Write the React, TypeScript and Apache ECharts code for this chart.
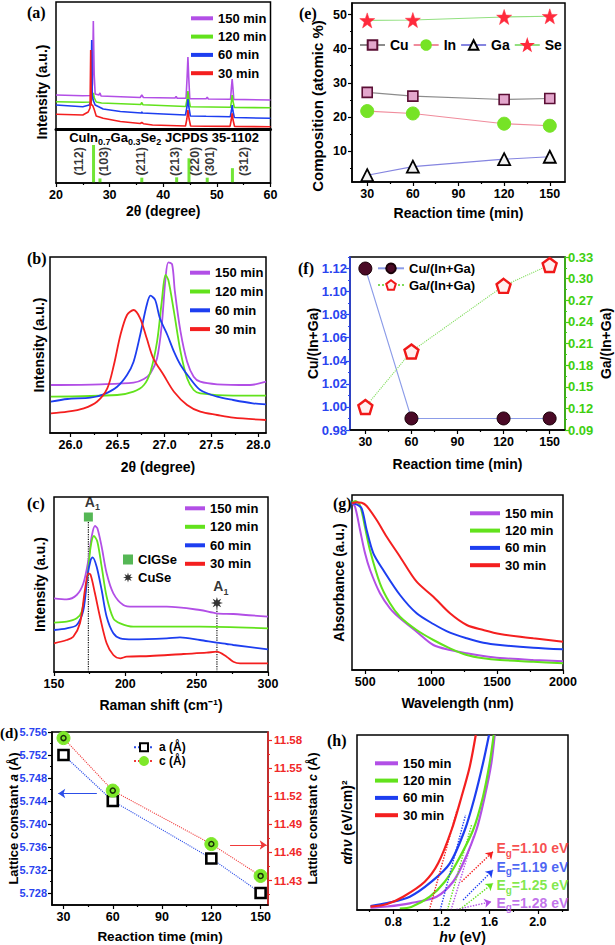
import { useEffect, useRef } from 'react';
import * as echarts from 'echarts';

const FONT = '"Liberation Sans", Arial, Helvetica, sans-serif';
const SERIF = '"Liberation Serif", "Times New Roman", serif';

const PURPLE = '#b24fe6';
const GREEN = '#62e21c';
const BLUE = '#1d3ef0';
const RED = '#f41f1f';

const timeNames = ['150 min', '120 min', '60 min', '30 min'];
const timeColors = [PURPLE, GREEN, BLUE, RED];

// ---------- (a) XRD patterns [2θ, intensity a.u.] ----------
const xrdA150 = [[20,34],[25,33.3],[26.6,33.5],[26.8,45],[26.96,108],[27.12,55],[27.3,35],[28.0,34],[28.2,36],[28.4,33],[35.7,31.5],[36.0,34],[36.3,31.5],[42.2,31],[42.4,32.5],[42.6,30.8],[44.25,30.7],[44.45,52],[44.6,72],[44.75,52],[44.95,30.3],[48.0,30.2],[48.2,31.8],[48.4,30],[52.55,29.7],[52.72,42],[52.85,50],[52.98,42],[53.15,29.6],[60,29]];
const xrdA120 = [[20,27.3],[25,26.7],[26.5,27],[26.8,31],[26.96,36],[27.15,31],[27.5,27],[28.5,26],[35.8,24.5],[36.0,26.5],[36.2,24.3],[44.2,22.5],[44.45,30],[44.6,38],[44.78,30],[45.05,22.2],[52.55,21.7],[52.72,28],[52.85,34],[53.0,28],[53.25,21.5],[60,21.3]];
const xrdA60 = [[20,24],[25,22.3],[26.2,24],[26.5,27],[26.66,89],[26.76,33],[27.0,28],[27.3,24],[28.8,20],[32,17.5],[35.9,16],[36.0,17],[36.1,16],[40,15],[44.15,14],[44.42,22],[44.6,30],[44.78,22],[45.05,13],[48,12.7],[52.5,12.3],[52.7,18],[52.85,24],[53.0,18],[53.25,11.5],[60,10.7]];
const xrdA30 = [[20,14.7],[25,14],[26.0,17],[26.35,21],[26.47,79],[26.56,24],[26.8,24],[27.1,20],[27.5,13],[28.8,10.7],[32,7.5],[35.7,5.5],[36.0,6.5],[36.3,5.3],[38,4],[44.15,3],[44.4,10],[44.6,19],[44.82,10],[45.1,3],[48,2.8],[52.45,2.6],[52.68,9],[52.85,15.7],[53.02,9],[53.3,2.5],[60,2.3]];
const refHkl = ['(112)', '(103)', '(211)', '(213)', '(220)', '(301)', '(312)'];
const refTwoTheta = [27.0, 28.2, 36.0, 42.5, 44.8, 48.2, 52.9];
const refIntensity = [100, 12, 14, 15, 65, 14, 39];

// ---------- (e) composition ----------
const reactionTime = [30, 60, 120, 150];
const compCu = [27.2, 26.1, 25.1, 25.4];
const compIn = [21.7, 21.0, 18.0, 17.4];
const compGa = [2.9, 5.4, 7.6, 8.3];
const compSe = [48.3, 48.4, 49.3, 49.5];

// ---------- (b) (112) peak zoom ----------
const xrdB150 = [[25.79,48],[26.32,48.7],[26.67,50.3],[26.78,54],[26.85,59.7],[26.92,74.7],[26.97,108],[27.01,154.7],[27.04,170.7],[27.08,168.7],[27.11,141.3],[27.17,101.3],[27.24,71.3],[27.31,56.3],[27.38,51.3],[27.56,48.7],[27.91,48],[28.08,51.3]];
const xrdB120 = [[25.79,36.3],[26.495,38],[26.67,41.3],[26.78,48],[26.85,61.3],[26.92,91.3],[26.97,131.3],[27.01,158],[27.04,153],[27.1,121.3],[27.17,81.3],[27.24,54.7],[27.31,43],[27.38,39.7],[27.73,37.3],[28.08,37.3]];
const xrdB60 = [[25.79,31.3],[25.965,34],[26.21,35.3],[26.35,38.7],[26.495,46.3],[26.6,58],[26.67,71.3],[26.74,98],[26.81,128],[26.85,137.3],[26.9,133],[26.95,114.7],[27.03,98],[27.1,81.3],[27.17,68],[27.27,54.7],[27.38,43],[27.56,36.3],[27.73,33],[27.94,29.7],[28.08,28.7]];
const xrdB30 = [[25.79,19.7],[25.965,21.3],[26.14,24.7],[26.28,31.3],[26.39,44.7],[26.46,68],[26.53,98],[26.6,118],[26.67,123],[26.74,114.7],[26.81,94.7],[26.88,74.7],[26.99,58],[27.1,41.3],[27.24,28],[27.38,21.3],[27.56,18],[27.73,15.3],[28.08,13]];

// ---------- (f) ratios ----------
const ratioCu = [1.12, 0.99, 0.99, 0.99];
const ratioGa = [0.122, 0.199, 0.29, 0.319];

// ---------- (c) Raman ----------
const ramanC150 = [[150,73.7],[158.9,72.7],[165.9,77],[170.6,88.7],[174.1,112],[176.4,135.3],[178.7,146],[180.4,143.7],[183.4,125.3],[186.9,98.7],[191.6,78.7],[198.6,67],[205.6,65.3],[229,65.3],[252.3,62],[264,58.7],[275.7,58],[300,55.3]];
const ramanC120 = [[150,49.3],[158.9,50.3],[165.9,53.7],[169.4,60.3],[172.9,88.7],[175.7,125.3],[178,136],[180.4,130.3],[183.4,105.3],[186.9,75.3],[191.6,53.7],[196.4,48.7],[205.6,45.3],[252.3,45.3],[300,43.7]];
const ramanC60 = [[150,42],[158.9,43.7],[165.9,47],[170.6,62],[173.4,95.3],[175.7,112],[177.1,114.7],[179.9,105.3],[183.4,82],[186.9,55.3],[191.6,38.7],[196.4,33.7],[205.6,32.7],[229,33.7],[238.3,34.7],[252.3,32],[264,29.3],[271,28],[275.7,27],[300,22.7]];
const ramanC30 = [[150,28.7],[158.9,32],[163.5,35.3],[168.2,48.7],[171.7,82],[174.1,98.7],[175.7,97],[178.7,78.7],[182.2,55.3],[186.9,28.7],[191.6,17],[196.4,13.7],[200.9,15.3],[217.3,16],[240.7,18],[257,19.3],[264,20.3],[271,15.3],[275.7,10.3],[280.4,8.7],[300,8.7]];
const cigsePeak = [174.1, 155];
const cuSePeak = [264.2, 69];

// ---------- (g) absorbance ----------
const absG150 = [[400,166.7],[423,163.3],[461,140],[499,116.7],[537,100],[612,76.7],[688,61.7],[764,51.7],[890,38.3],[1017,25],[1143,20],[1270,16.7],[1396,14],[1522,12],[1775,10],[2000,8.7]];
const absG120 = [[400,167.3],[425,169],[460,165],[498,143.3],[536,120],[612,86.7],[688,66.7],[764,53.3],[890,40],[1017,30],[1143,21.7],[1270,15],[1396,11.7],[1522,10],[1775,8.3],[2000,6.7]];
const absG60 = [[400,166.7],[435,165.7],[473,161.7],[511,140],[562,116.7],[637,100],[764,75],[890,56.7],[1017,46],[1143,37.3],[1270,31.7],[1396,27.3],[1522,25],[1775,22.3],[2000,20.7]];
const absG30 = [[400,166.7],[435,167.7],[473,167.3],[511,164],[587,150],[663,133.3],[764,113.3],[890,88.3],[1017,73.3],[1143,56.7],[1270,45],[1396,40],[1522,36],[1775,31.7],[2000,28.3]];

// ---------- (d) lattice constants ----------
const latticeA = [5.752, 5.744, 5.734, 5.728];
const latticeC = [11.582, 11.526, 11.469, 11.435];

// ---------- (h) Tauc plots ----------
const taucH150 = [[0.612,2.3],[0.75,3.5],[0.938,6.7],[1.16,13.3],[1.297,28.3],[1.38,46.7],[1.49,80],[1.559,113.3],[1.614,146.7],[1.642,175]];
const taucH120 = [[0.855,1.5],[0.95,3],[1.104,13.3],[1.228,28.3],[1.325,46.7],[1.463,80],[1.545,113.3],[1.6,146.7],[1.634,175]];
const taucH60 = [[0.612,4],[0.75,7],[0.938,13.3],[1.118,28.3],[1.27,46.7],[1.394,80],[1.477,113.3],[1.545,146.7],[1.595,175]];
const taucH30 = [[0.612,3.3],[0.75,6],[0.883,13.3],[1.062,28.3],[1.173,46.7],[1.284,80],[1.367,113.3],[1.435,143.3],[1.485,175]];
const bandGaps = [1.28, 1.25, 1.19, 1.10];

// ---------- helpers ----------
const lbl = (size: number, color = '#000') => ({ fontFamily: FONT, fontWeight: 'bold', fontSize: size, color });
const fmt0 = (v: number) => String(Math.round(v));
const fmt1 = (v: number) => v.toFixed(1);
const fmt2 = (v: number) => v.toFixed(2);
const fmt3 = (v: number) => v.toFixed(3);
const STAR5 = 'path://M0,-10L2.35,-3.24L9.51,-3.09L3.8,1.24L5.88,8.09L0,4L-5.88,8.09L-3.8,1.24L-9.51,-3.09L-2.35,-3.24Z';
const STAR8 = 'path://M10,0L4.16,1.72L7.07,7.07L1.72,4.16L0,10L-1.72,4.16L-7.07,7.07L-4.16,1.72L-10,0L-4.16,-1.72L-7.07,-7.07L-1.72,-4.16L0,-10L1.72,-4.16L7.07,-7.07L4.16,-1.72Z';
const PENTA = 'path://M0,-10L9.51,-3.09L5.88,8.09L-5.88,8.09L-9.51,-3.09Z';

function buildOption(): any {
  const grid = [
    [56, 2, 214.5, 127],
    [56, 129, 214.5, 54],
    [352, 3, 213, 179],
    [50, 257, 216, 176],
    [350, 257, 215, 173],
    [54, 497, 214, 175],
    [352, 495, 211, 175],
    [52, 732, 216, 173],
    [357, 735, 211, 175],
  ].map(([left, top, width, height]) => ({
    left, top, width, height, show: true, borderColor: '#000', borderWidth: 1.5,
    backgroundColor: 'transparent', containLabel: false, outerBoundsMode: 'none',
  }));

  const xAxis: any[] = [];
  const yAxis: any[] = [];
  const axis = (kind: string, gridIndex: number, min: number, max: number, o: any) => {
    const ax = {
      type: 'value', gridIndex, min, max,
      position: o.pos ?? (kind === 'x' ? 'bottom' : 'left'),
      axisLine: { show: !!o.line, onZero: false, lineStyle: { color: o.lineColor ?? '#000', width: o.lineWidth ?? 1.5 } },
      axisTick: o.ticks
        ? { show: true, inside: false, length: o.tickLen ?? 4, customValues: o.ticks, lineStyle: { color: o.lineColor ?? '#000', width: 1.2 } }
        : { show: false },
      axisLabel: o.labels
        ? { show: true, customValues: o.labels, margin: o.margin ?? 5, formatter: o.fmt, ...lbl(o.fs ?? 12.5, o.labelColor ?? '#000') }
        : { show: false },
      splitLine: { show: false },
      name: o.name,
      nameLocation: 'middle',
      nameGap: o.gap ?? 20,
      nameRotate: kind === 'y' ? 90 : 0,
      nameTextStyle: { ...lbl(o.nameSize ?? 14), rich: { i: { ...lbl(o.nameSize ?? 14), fontStyle: 'italic' } } },
      nameMoveOverlap: false,
      silent: true,
      z: 5,
    };
    const list = kind === 'x' ? xAxis : yAxis;
    list.push(ax);
    return list.length - 1;
  };

  const t30 = [30, 60, 90, 120, 150];
  const t30m = [45, 75, 105, 135];

  // (a)
  const xA0 = axis('x', 0, 20, 60, { line: true, lineWidth: 3 });
  const yA0 = axis('y', 0, 0, 127, {});
  const xA1 = axis('x', 1, 20, 60, { line: true, ticks: [20, 30, 40, 50, 60], labels: [20, 30, 40, 50, 60], fmt: fmt0, name: '2θ (degree)', gap: 21 });
  axis('x', 1, 20, 60, { ticks: [25, 35, 45, 55], tickLen: 2 });
  const yA1 = axis('y', 1, 0, 142, {});
  // (e)
  const xE = axis('x', 2, 20, 160, { line: true, ticks: t30, labels: t30, fmt: fmt0, name: 'Reaction time (min)', gap: 24 });
  axis('x', 2, 20, 160, { ticks: t30m, tickLen: 2 });
  const yE = axis('y', 2, 0.9, 53.4, { line: true, ticks: [10, 20, 30, 40, 50], labels: [10, 20, 30, 40, 50], fmt: fmt0 });
  axis('y', 2, 0.9, 53.4, { ticks: [5, 15, 25, 35, 45], tickLen: 2 });
  // (b)
  const xB = axis('x', 3, 25.78, 28.08, { line: true, ticks: [26, 26.5, 27, 27.5, 28], labels: [26, 26.5, 27, 27.5, 28], fmt: fmt1, name: '2θ (degree)', gap: 27 });
  axis('x', 3, 25.78, 28.08, { ticks: [26.25, 26.75, 27.25, 27.75], tickLen: 2 });
  const yB = axis('y', 3, 0, 176, { name: 'Intensity (a.u.)', gap: 4 });
  // (f)
  const BLUE_AX = '#2a44f0', GREEN_AX = '#3fcf10', RED_AX = '#f02828';
  const xF = axis('x', 4, 20, 160, { line: true, ticks: t30, labels: t30, fmt: fmt0, name: 'Reaction time (min)', gap: 27 });
  axis('x', 4, 20, 160, { ticks: t30m, tickLen: 2 });
  const fL = [0.98, 1.0, 1.02, 1.04, 1.06, 1.08, 1.1, 1.12];
  const yF1 = axis('y', 4, 0.98, 1.13, { line: true, lineColor: BLUE_AX, ticks: fL, labels: fL, fmt: fmt2, labelColor: BLUE_AX, fs: 13, margin: 3, name: 'Cu/(In+Ga)', gap: 30 });
  axis('y', 4, 0.98, 1.13, { ticks: [0.99, 1.01, 1.03, 1.05, 1.07, 1.09, 1.11, 1.13], tickLen: 2, lineColor: BLUE_AX });
  const fR = [0.09, 0.12, 0.15, 0.18, 0.21, 0.24, 0.27, 0.3, 0.33];
  const yF2 = axis('y', 4, 0.09, 0.33, { pos: 'right', line: true, lineColor: GREEN_AX, ticks: fR, labels: fR, fmt: fmt2, labelColor: GREEN_AX, fs: 13, margin: 3, name: 'Ga/(In+Ga)', gap: 34 });
  axis('y', 4, 0.09, 0.33, { pos: 'right', ticks: [0.105, 0.135, 0.165, 0.195, 0.225, 0.255, 0.285, 0.315], tickLen: 2, lineColor: GREEN_AX });
  // (c)
  const xC = axis('x', 5, 150, 300, { line: true, ticks: [150, 200, 250, 300], labels: [150, 200, 250, 300], fmt: fmt0, name: 'Raman shift (cm⁻¹)', gap: 26 });
  axis('x', 5, 150, 300, { ticks: [175, 225, 275], tickLen: 2 });
  const yC = axis('y', 5, 0, 175, { name: 'Intensity (a.u.)', gap: 7 });
  // (g)
  const xG = axis('x', 6, 400, 2000, { line: true, ticks: [500, 1000, 1500, 2000], labels: [500, 1000, 1500, 2000], fmt: fmt0, name: 'Wavelength (nm)', gap: 26 });
  axis('x', 6, 400, 2000, { ticks: [750, 1250, 1750], tickLen: 2 });
  const yG = axis('y', 6, 0, 175, { name: 'Absorbance (a.u.)', gap: 6 });
  // (d)
  const xD = axis('x', 7, 23, 154.5, { line: true, ticks: t30, labels: t30, fmt: fmt0, name: 'Reaction time (min)', nameSize: 13.5, gap: 24 });
  axis('x', 7, 23, 154.5, { ticks: t30m, tickLen: 2 });
  const dL = [5.728, 5.732, 5.736, 5.74, 5.744, 5.748, 5.752, 5.756];
  const yD1 = axis('y', 7, 5.7259, 5.756, { line: true, ticks: dL, labels: dL, fmt: fmt3, labelColor: BLUE_AX, fs: 11, margin: 5, name: 'Lattice constant {i|a} (Å)', nameSize: 13, gap: 32 });
  axis('y', 7, 5.7259, 5.756, { ticks: [5.73, 5.734, 5.738, 5.742, 5.746, 5.75, 5.754], tickLen: 2 });
  const dR = [11.43, 11.46, 11.49, 11.52, 11.55, 11.58];
  const yD2 = axis('y', 7, 11.404, 11.5885, { pos: 'right', line: true, lineColor: RED_AX, ticks: dR, labels: dR, fmt: fmt2, labelColor: RED_AX, fs: 11.5, margin: 6, name: 'Lattice constant {i|c} (Å)', nameSize: 13, gap: 38 });
  axis('y', 7, 11.404, 11.5885, { pos: 'right', ticks: [11.415, 11.445, 11.475, 11.505, 11.535, 11.565], tickLen: 2, lineColor: RED_AX });
  // (h)
  const xH = axis('x', 8, 0.5, 2.25, { line: true, ticks: [0.8, 1.2, 1.6, 2.0], labels: [0.8, 1.2, 1.6, 2.0], fmt: fmt1, name: '{i|hν} (eV)', gap: 20 });
  axis('x', 8, 0.5, 2.25, { ticks: [0.6, 1.0, 1.4, 1.8, 2.2], tickLen: 2 });
  const yH = axis('y', 8, 0, 175, { name: '{i|αhν} (eV/cm)²', gap: 3 });

  const curve = (name: string, data: any, color: string, xi: number, yi: number, smooth: any = false, width = 1.8) => ({
    type: 'line', name, data, xAxisIndex: xi, yAxisIndex: yi, symbol: 'none', showSymbol: false, smooth,
    lineStyle: { color, width }, itemStyle: { color }, silent: true, z: 3,
    emphasis: { disabled: true },
  });

  const series: any[] = [];
  // (a)
  [xrdA150, xrdA120, xrdA60, xrdA30].forEach((d, i) => series.push(curve(timeNames[i], d, timeColors[i], xA0, yA0, false, 1.6)));
  series.push({
    type: 'bar', name: 'JCPDS', xAxisIndex: xA1, yAxisIndex: yA1, barWidth: 3, silent: true,
    data: refTwoTheta.map((x, i) => [x, refIntensity[i]]), itemStyle: { color: '#72e536' },
  });
  const hklLabelX = [24.3, 29.0, 35.9, 42.1, 45.9, 48.7, 55.1];
  series.push({
    type: 'scatter', name: 'hkl', xAxisIndex: xA1, yAxisIndex: yA1, symbolSize: 0, silent: true,
    data: refHkl.map((t, i) => ({ value: [hklLabelX[i], 57], name: t })),
    label: { show: true, position: 'inside', rotate: 90, formatter: '{b}', ...lbl(12.5, '#000') },
  });
  // (e)
  const pts = (ys: number[]) => reactionTime.map((t, i) => [t, ys[i]]);
  const marker = (name: string, ys: number[], lineColor: string, symbol: string, size: number, item: any, xi: number, yi: number, lineType = 'solid') => ({
    type: 'line', name, data: pts(ys), xAxisIndex: xi, yAxisIndex: yi, symbol, symbolSize: size,
    lineStyle: { color: lineColor, width: 1.1, type: lineType }, itemStyle: item, silent: true, z: 4,
    emphasis: { disabled: true },
  });
  series.push(marker('Cu', compCu, '#8c8c8c', 'rect', 10, { color: '#e3a6cc', borderColor: '#5b0f35', borderWidth: 1.6 }, xE, yE));
  series.push(marker('In', compIn, '#f08c9c', 'circle', 13, { color: '#76e326', borderColor: '#76e326', borderWidth: 1 }, xE, yE));
  series.push(marker('Ga', compGa, '#8585e0', 'triangle', 12, { color: '#f2f2f2', borderColor: '#000', borderWidth: 1.8 }, xE, yE));
  series.push(marker('Se', compSe, '#92e080', STAR5, 15, { color: '#ff2a3c', borderColor: '#ff2a3c', borderWidth: 0.5 }, xE, yE));
  // (b)
  [xrdB150, xrdB120, xrdB60, xrdB30].forEach((d, i) => series.push(curve(timeNames[i], d, timeColors[i], xB, yB, 0.3)));
  // (f)
  series.push(marker('Cu/(In+Ga)', ratioCu, '#8c9ce8', 'circle', 13, { color: '#4a0a26', borderColor: '#1a0008', borderWidth: 1 }, xF, yF1));
  series.push(marker('Ga/(In+Ga)', ratioGa, '#7fdc5a', PENTA, 14, { color: '#fff0f0', borderColor: '#f01818', borderWidth: 2.4 }, xF, yF2, 'dotted'));
  // (c)
  [ramanC150, ramanC120, ramanC60, ramanC30].forEach((d, i) => series.push(curve(timeNames[i], d, timeColors[i], xC, yC, 0.3)));
  const dotted = (data: any, xi: number, yi: number) => ({
    type: 'line', data, xAxisIndex: xi, yAxisIndex: yi, symbol: 'none', silent: true,
    lineStyle: { color: '#111', width: 1.2, type: 'dotted' }, z: 2,
  });
  series.push(dotted([[cigsePeak[0], 0], [cigsePeak[0], cigsePeak[1] - 4]], xC, yC));
  series.push(dotted([[cuSePeak[0], 0], [cuSePeak[0], cuSePeak[1] - 4]], xC, yC));
  const a1Label = {
    show: true, position: 'top', distance: 1, offset: [4, 0], formatter: 'A{s|1}', ...lbl(14),
    rich: { s: { ...lbl(9), verticalAlign: 'bottom', lineHeight: 20 } },
  };
  series.push({ type: 'scatter', name: 'CIGSe', data: [cigsePeak], xAxisIndex: xC, yAxisIndex: yC, symbol: 'rect', symbolSize: 9, itemStyle: { color: '#2aa52a' }, label: a1Label, silent: true, z: 6 });
  series.push({ type: 'scatter', name: 'CuSe', data: [cuSePeak], xAxisIndex: xC, yAxisIndex: yC, symbol: STAR8, symbolSize: 12, itemStyle: { color: '#000' }, label: a1Label, silent: true, z: 6 });
  // (g)
  [absG150, absG120, absG60, absG30].forEach((d, i) => series.push(curve(timeNames[i], d, timeColors[i], xG, yG, 0.3, 2)));
  // (d)
  const dA = marker('a (Å)', latticeA, '#2c4ee8', 'rect', 10, { color: '#fff', borderColor: '#000', borderWidth: 2.6 }, xD, yD1, 'dotted');
  (dA as any).markLine = {
    silent: true, symbol: ['none', 'none'], symbolSize: 7, label: { show: false }, animation: false,
    lineStyle: { color: '#2c4ee8', width: 1.2, type: 'solid' },
    data: [[{ coord: [50.3, 5.7453] }, { coord: [26.8, 5.7453], symbol: 'arrow' }]],
  };
  series.push(dA);
  const dC = marker('c (Å)', latticeC, '#f03a3a', 'circle', 13, { color: '#7ee82a', borderColor: '#7ee82a', borderWidth: 1 }, xD, yD2, 'dotted');
  (dC as any).markLine = {
    silent: true, symbol: ['none', 'none'], symbolSize: 7, label: { show: false }, animation: false,
    lineStyle: { color: '#f03a3a', width: 1.2, type: 'solid' },
    data: [[{ coord: [131.4, 11.468] }, { coord: [153.7, 11.468], symbol: 'arrow' }]],
  };
  series.push(dC);
  series.push({ type: 'scatter', name: 'c-ring', data: pts(latticeC), xAxisIndex: xD, yAxisIndex: yD2, symbol: 'circle', symbolSize: 5, itemStyle: { color: '#7ee82a', borderColor: '#000', borderWidth: 1.5 }, silent: true, z: 6 });
  // (h)
  const tanTop = [[1.47, 75], [1.45, 85], [1.40, 95], [1.33, 100]];
  const arrowStart = [[1.325, 0.5], [1.353, 0.5], [1.38, 10], [1.367, 28.3]];
  const arrowEnd = [[1.614, 8.3], [1.628, 26.7], [1.628, 40], [1.628, 58.3]];
  [taucH150, taucH120, taucH60, taucH30].forEach((d, i) => {
    const s: any = curve(timeNames[i], d, timeColors[i], xH, yH, 0.3, 2.2);
    s.markLine = {
      silent: true, symbol: ['none', 'none'], symbolSize: 7, label: { show: false }, animation: false,
      lineStyle: { color: timeColors[i], width: 1.4, type: 'dotted' },
      data: [
        [{ coord: [bandGaps[i], 0] }, { coord: tanTop[i] }],
        [{ coord: arrowStart[i] }, { coord: arrowEnd[i], symbol: 'arrow' }],
      ],
    };
    series.push(s);
  });
  const egY = [7.3, 25, 43.3, 61.7];
  series.push({
    type: 'scatter', name: 'Eg', xAxisIndex: xH, yAxisIndex: yH, symbolSize: 0, silent: true, z: 7,
    data: bandGaps.map((g, i) => ({
      value: [1.656, egY[i]],
      label: { color: timeColors[i], formatter: `E{s|g}=${g.toFixed(2)} eV` },
    })),
    label: {
      show: true, position: 'right', distance: 0, ...lbl(14),
      rich: { s: { fontFamily: FONT, fontWeight: 'bold', fontSize: 10, verticalAlign: 'bottom', lineHeight: 20 } },
    },
  });

  const timeLegend = (left: number, top: number, w: number, gap: number) => ({
    show: true, data: timeNames, orient: 'vertical', left, top, icon: 'rect', itemWidth: w, itemHeight: 4,
    itemGap: gap, padding: 0, selectedMode: false, textStyle: { ...lbl(13), lineHeight: 15 },
  });

  const legend = [
    timeLegend(191, 10.8, 22, 3.3),
    timeLegend(190, 265.2, 20, 3.8),
    timeLegend(185, 500.8, 20, 3.5),
    timeLegend(470, 505.8, 30, 2.3),
    timeLegend(375, 755.8, 23, 2.3),
    { show: true, data: ['Cu', 'In', 'Ga', 'Se'], orient: 'horizontal', left: 359, top: 37, itemWidth: 25, itemHeight: 12, itemGap: 4, padding: 0, selectedMode: false, textStyle: { ...lbl(14), lineHeight: 16 } },
    { show: true, data: ['Cu/(In+Ga)', 'Ga/(In+Ga)'], orient: 'vertical', left: 377, top: 260.8, itemWidth: 26, itemHeight: 12, itemGap: 1.7, padding: 0, selectedMode: false, textStyle: { ...lbl(13), lineHeight: 15 } },
    { show: true, data: ['a (Å)', 'c (Å)'], orient: 'vertical', left: 133, top: 740.8, itemWidth: 20, itemHeight: 10, itemGap: 0.7, padding: 0, selectedMode: false, textStyle: { ...lbl(12), lineHeight: 13 } },
    { show: true, data: ['CIGSe', 'CuSe'], orient: 'vertical', left: 123, top: 552, itemWidth: 10, itemHeight: 10, itemGap: 3, padding: 0, selectedMode: false, textStyle: { ...lbl(13), lineHeight: 15 } },
  ];

  const letters: any[] = [['(a)', 27, 12, 16], ['(b)', 27, 258, 16], ['(c)', 27, 503, 16], ['(d)', 0, 733, 15], ['(e)', 299, 13, 16], ['(f)', 298, 268, 16], ['(g)', 333, 503, 16], ['(h)', 327, 740, 16]];
  const graphic: any[] = letters.map(([t, x, y, s]) => ({
    type: 'text', x, y, silent: true,
    style: { text: t, font: `bold ${s}px ${SERIF}`, fill: '#000', align: 'left', verticalAlign: 'middle' },
  }));
  graphic.push({
    type: 'text', x: 42, y: 92, rotation: Math.PI / 2, silent: true,
    style: { text: 'Intensity (a.u.)', font: `bold 14px ${FONT}`, fill: '#000', align: 'center', verticalAlign: 'middle' },
  });
  graphic.push({
    type: 'text', x: 317, y: 106, rotation: Math.PI / 2, silent: true,
    style: { text: 'Composition (atomic %)', font: `bold 15px ${FONT}`, fill: '#000', align: 'center', verticalAlign: 'middle' },
  });
  graphic.push({
    type: 'text', x: 164, y: 137, silent: true,
    style: {
      text: 'CuIn{s|0.7}Ga{s|0.3}Se{s|2} JCPDS 35-1102', font: `bold 13px ${FONT}`, fill: '#000',
      align: 'center', verticalAlign: 'middle', lineHeight: 16,
      rich: { s: { fontFamily: FONT, fontWeight: 'bold', fontSize: 9, verticalAlign: 'bottom', lineHeight: 18, fill: '#000' } },
    },
  });

  return {
    animation: false,
    backgroundColor: '#fff',
    textStyle: { fontFamily: FONT },
    grid, xAxis, yAxis, series, legend, graphic,
  };
}

export default function App() {
  const ref = useRef<HTMLDivElement>(null);
  useEffect(() => {
    const chart = echarts.init(ref.current!, null, { renderer: 'svg' });
    chart.setOption(buildOption());
    return () => chart.dispose();
  }, []);
  return <div ref={ref} style={{ position: 'fixed', left: 0, top: 0, width: 615, height: 945, background: '#fff' }} />;
}
